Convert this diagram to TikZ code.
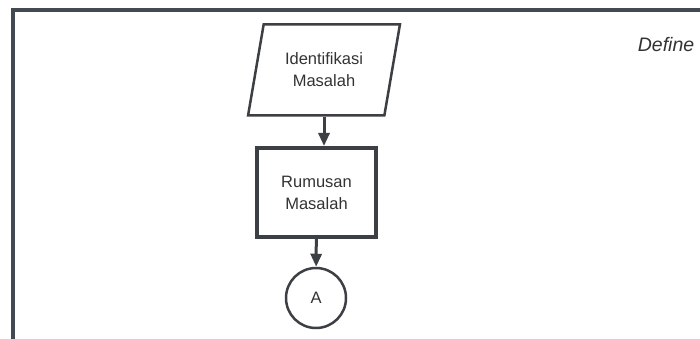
\documentclass[tikz,border=0pt]{standalone}
\usepackage{fontspec}
\setmainfont{Liberation Sans}
\usepackage{tikz}
\usetikzlibrary{positioning,shapes.geometric,arrows.meta}
\definecolor{framegray}{HTML}{434A52}
\definecolor{linegray}{HTML}{3C3F44}
\definecolor{textgray}{HTML}{333333}

\begin{document}
\begin{tikzpicture}[x=1pt,y=-1pt,->,>={Triangle[length=13pt,width=11pt]},
  every node/.style={text=textgray,font=\fontsize{16.5}{22}\selectfont,align=center},
  io/.style={trapezium,trapezium left angle=75,trapezium right angle=105,
    trapezium stretches=true,draw=linegray,line width=2.5pt,
    minimum width=152pt,minimum height=91pt},
  proc/.style={rectangle,draw=linegray,line width=4pt,minimum width=119pt,minimum height=89pt},
  conn/.style={circle,draw=linegray,line width=2.5pt,minimum size=60pt}]
  \useasboundingbox (0,0) rectangle (700,339);
  \draw[-,framegray,line width=4pt] (13,345) -- (13,10) -- (710,10);
  \node (ident) [io] at (324,70) {Identifikasi\\Masalah};
  \node (rumus) [proc] at (316.5,192.5) {Rumusan\\Masalah};
  \node (conA) [conn] at (316,298) {A};
  \node (define) at (666,45) {\fontsize{19.5}{22}\selectfont\itshape Define};
  \path[linegray,line width=3pt]
    (ident) edge (ident |- rumus.north)
    (rumus) edge (conA);
\end{tikzpicture}
\end{document}
